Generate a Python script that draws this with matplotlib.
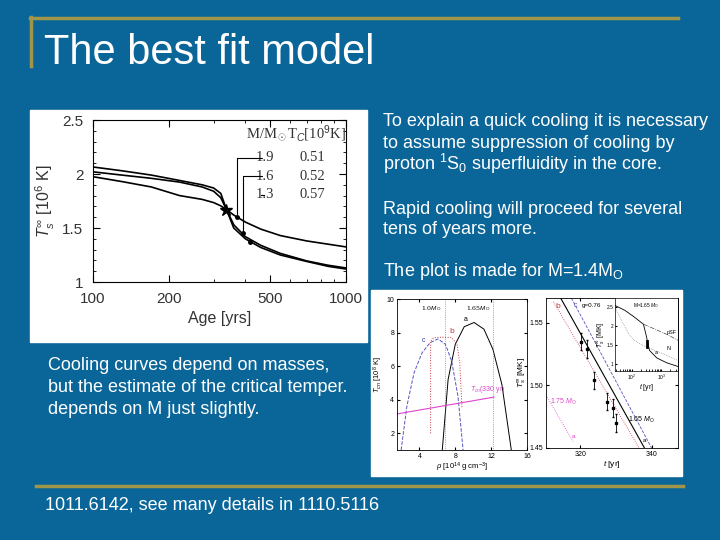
import matplotlib.pyplot as plt
from matplotlib.patches import Rectangle
from matplotlib.lines import Line2D
from matplotlib.ticker import FixedLocator, NullFormatter, MultipleLocator

plt.rcParams['font.family'] = ['Liberation Sans', 'DejaVu Sans']
plt.rcParams['mathtext.fontset'] = 'custom'
plt.rcParams['mathtext.rm'] = 'Liberation Sans'
plt.rcParams['mathtext.it'] = 'Liberation Sans:italic'
plt.rcParams['mathtext.bf'] = 'Liberation Sans:bold'

BLUE = '#0a6699'
GOLD = '#a0964a'

# main cooling curves (age in years, surface temperature in 1e6 K)
ages = [100, 130, 170, 220, 270, 300, 320, 337, 360, 400, 460, 550, 700, 850, 1000]
temp_m19 = [1.975, 1.93, 1.88, 1.80, 1.765, 1.735, 1.705, 1.67, 1.62, 1.555, 1.49, 1.43, 1.38, 1.35, 1.325]
temp_m16 = [2.02, 1.99, 1.96, 1.925, 1.88, 1.84, 1.78, 1.67, 1.53, 1.42, 1.34, 1.265, 1.195, 1.155, 1.13]
temp_m13 = [2.065, 2.03, 1.99, 1.94, 1.90, 1.87, 1.82, 1.67, 1.50, 1.40, 1.32, 1.25, 1.19, 1.145, 1.12]
star_age = [337]
star_temp = [1.67]
mark_age = [371, 392, 417]
mark_temp = [1.60, 1.45, 1.37]
masses = ['1.9', '1.6', '1.3']
crit_temps = ['0.51', '0.52', '0.57']

# critical temperature profiles (density 1e14 g/cm3, Tc 1e8 K)
rho_a = [6.55, 7.2, 8.0, 9.0, 10.1, 11.2, 12.2, 13.2, 14.25]
tc_a = [1.0, 5.2, 7.3, 8.35, 8.6, 8.2, 7.0, 4.9, 1.0]
rho_c = [1.96, 2.6, 3.4, 4.3, 5.2, 6.07, 6.9, 7.6, 8.3, 8.87]
tc_c = [1.0, 3.6, 5.6, 6.8, 7.4, 7.62, 7.3, 6.3, 4.2, 1.0]
rho_b = [5.25, 5.25, 5.6, 6.5, 7.6, 8.2, 8.5, 8.75]
tc_b = [2.0, 7.5, 7.7, 7.72, 7.7, 7.3, 6.2, 3.5]
rho_t330 = [1.5, 12.3]
tc_t330 = [3.15, 4.15]
rho_masses = [6.8, 12.25]
rho_mass_labels = ['1.0$M_{\\mathrm{O}}$', '1.65$M_{\\mathrm{O}}$']

# zoom on Cas A data (t in yr, T in MK)
t_black = [314.5, 338.0]
T_black = [1.57, 1.45]
t_blue = [317.5, 340.0]
T_blue = [1.57, 1.45]
t_red = [312.5, 336.5]
T_red = [1.567, 1.45]
t_m175 = [310.5, 318.0]
T_m175 = [1.492, 1.455]
obs_t = [320.1, 322.0, 323.9, 327.6, 329.2, 330.1]
obs_T = [1.535, 1.529, 1.504, 1.487, 1.482, 1.470]
obs_err = [0.007, 0.007, 0.007, 0.007, 0.007, 0.007]

# inset (t in yr, T in MK)
ins_t = [28, 60, 120, 250, 300, 400, 700, 1500, 3600]
ins_T_a = [2.55, 2.42, 2.25, 2.05, 1.8, 1.35, 1.15, 1.02, 0.92]
ins_t_sp = [250, 600, 1500, 3600]
ins_T_sp = [2.05, 1.92, 1.78, 1.62]
ins_t_n = [28, 50, 80, 120, 250, 600, 1500, 3600]
ins_T_n = [2.5, 2.1, 1.8, 1.62, 1.48, 1.35, 1.22, 1.08]


def px(x0, y0, x1, y1):
    return [x0 / 720, 1 - y1 / 540, (x1 - x0) / 720, (y1 - y0) / 540]


fig = plt.figure(figsize=(7.2, 5.4), dpi=100, facecolor=BLUE)

# slide decoration
fig.add_artist(Line2D([30 / 720, 678 / 720], [1 - 18 / 540] * 2, color=GOLD, lw=2.5))
fig.add_artist(Line2D([31 / 720] * 2, [1 - 17 / 540, 1 - 66 / 540], color=GOLD, lw=2.5))
fig.add_artist(Line2D([36 / 720, 683 / 720], [1 - 486 / 540] * 2, color=GOLD, lw=2.5))
fig.text(44 / 720, 1 - 53 / 540, 'The best fit model', color='white', fontsize=30, va='center')

fig.add_artist(Rectangle((30 / 720, 1 - 342 / 540), 337 / 720, 232 / 540, color='white',
                         transform=fig.transFigure, zorder=-1))
fig.add_artist(Rectangle((371 / 720, 1 - 476 / 540), 311 / 720, 186 / 540, color='white',
                         transform=fig.transFigure, zorder=-1))

txt = dict(color='white', fontsize=13, va='center')
right_lines = [(122, 'To explain a quick cooling it is necessary'),
               (143, 'to assume suppression of cooling by'),
               (164, 'proton $^1$S$_0$ superfluidity in the core.'),
               (209, 'Rapid cooling will proceed for several'),
               (230, 'tens of years more.'),
               (272, 'The plot is made for M=1.4M$_{\\mathrm{O}}$')]
for y, s in right_lines:
    fig.text(383 / 720, 1 - y / 540, s, **txt)
left_lines = [(366, 'Cooling curves depend on masses,'),
              (388, 'but the estimate of the critical temper.'),
              (409, 'depends on M just slightly.')]
for y, s in left_lines:
    fig.text(48 / 720, 1 - y / 540, s, **txt)
fig.text(45 / 720, 1 - 505 / 540, '1011.6142, see many details in 1110.5116', **txt)

# main cooling plot
ax = fig.add_axes(px(93, 120, 346, 282))
ax.patch.set_alpha(0)
for temps in (temp_m19, temp_m16, temp_m13):
    ax.plot(ages, temps, color='black', lw=1.2)
ax.plot(star_age, star_temp, marker='*', ms=9, color='black', ls='none')
ax.plot(mark_age, mark_temp, marker='o', ms=2.5, color='black', ls='none')
ax.set_xscale('log')
ax.set_xlim(100, 1000)
ax.set_ylim(1, 2.5)
ax.xaxis.set_major_locator(FixedLocator([100, 200, 500, 1000]))
ax.xaxis.set_major_formatter(plt.FixedFormatter(['100', '200', '500', '1000']))
ax.xaxis.set_minor_formatter(NullFormatter())
ax.yaxis.set_major_locator(FixedLocator([1, 1.5, 2, 2.5]))
ax.yaxis.set_major_formatter(plt.FixedFormatter(['1', '1.5', '2', '2.5']))
ax.yaxis.set_minor_locator(MultipleLocator(0.1))
ax.tick_params(which='both', direction='in', top=True, right=True, labelsize=11,
               labelcolor='#333333')
ax.tick_params(axis='x', pad=7)
ax.tick_params(axis='y', pad=7)
ax.tick_params(which='major', length=5)
ax.tick_params(which='minor', length=2.5)
ax.set_xlabel('Age [yrs]', fontsize=11.5, color='#333333')
ax.set_ylabel('$T_s^\\infty$ [10$^6$ K]', fontsize=11.5, color='#333333')
serif = dict(family='Liberation Serif', fontsize=10.5, color='#333333')
ax.text(404, 2.33, 'M/M$_\\odot$', **serif)
ax.text(585, 2.33, 'T$_C$[10$^9$K]', **serif)
for i, (m, tc) in enumerate(zip(masses, crit_temps)):
    y = 2.15 - 0.17 * i
    ax.text(520, y, m, ha='right', va='center', **serif)
    ax.text(735, y, tc, ha='center', va='center', **serif)
    if i < 2:
        ax.annotate('', xy=(mark_age[i], mark_temp[i]), xytext=(478, y),
                    arrowprops=dict(arrowstyle='-', lw=0.8, color='black',
                                    connectionstyle='angle,angleA=180,angleB=90,rad=0'))
    else:
        ax.plot([460, 474], [y, y], color='black', lw=0.8)

# critical temperature plot
small = 5
ax2 = fig.add_axes(px(397, 299, 527, 450))
ax2.patch.set_alpha(0)
ax2.plot(rho_a, tc_a, color='black', lw=0.7)
ax2.plot(rho_c, tc_c, color='#5555bb', lw=0.7, ls='--')
ax2.plot(rho_b, tc_b, color='#cc3344', lw=0.7, ls=':')
ax2.plot(rho_t330, tc_t330, color='#dd44cc', lw=0.8)
for r, lab in zip(rho_masses, rho_mass_labels):
    ax2.axvline(r, color='#666666', lw=0.5, ls=':')
    ax2.text(r - 0.3, 9.7, lab, ha='right', va='top', fontsize=small - 0.5, family='DejaVu Serif')
ax2.text(9.0, 8.7, 'a', fontsize=small, color='black')
ax2.text(4.3, 7.45, 'c', fontsize=small, color='#3333aa')
ax2.text(7.35, 8.0, 'b', fontsize=small + 1, color='#cc3344')
ax2.text(9.6, 4.5, '$T_{cn}$(330 yr)', fontsize=small, color='#dd44cc')
ax2.set_xlim(1.5, 16)
ax2.set_ylim(1, 10)
ax2.set_xticks([4, 8, 12, 16])
ax2.set_yticks([2, 4, 6, 8, 10])
ax2.tick_params(direction='in', top=True, right=True, labelsize=small, length=2, pad=2)
ax2.set_xlabel('$\\rho$ [10$^{14}$ g cm$^{-3}$]', fontsize=small + 0.5, labelpad=1)
ax2.set_ylabel('$T_{cn}$ [10$^8$ K]', fontsize=small + 0.5, labelpad=1)
for s in ax2.spines.values():
    s.set_linewidth(0.6)

# Cas A zoom plot
ax3 = fig.add_axes(px(546, 298, 678, 448))
ax3.patch.set_alpha(0)
ax3.plot(t_black, T_black, color='black', lw=0.8)
ax3.plot(t_blue, T_blue, color='#5555bb', lw=0.6, ls='--')
ax3.plot(t_red, T_red, color='#cc3344', lw=0.6, ls=':')
ax3.plot(t_m175, T_m175, color='#dd44cc', lw=0.6, ls=':')
ax3.errorbar(obs_t, obs_T, yerr=obs_err, fmt='s', ms=1.5, color='black', lw=0.6, capsize=1)
ax3.text(313, 1.562, 'b', fontsize=small + 1, color='#cc3344')
ax3.text(318.2, 1.563, 'c', fontsize=small, color='#5555bb')
ax3.text(320.5, 1.563, 'g=0.76', fontsize=small - 0.5)
ax3.text(333.5, 1.471, '1.65 $M_{\\mathrm{O}}$', fontsize=small)
ax3.text(337.5, 1.455, 'a', fontsize=small - 0.5)
ax3.text(311.5, 1.485, '1.75 $M_{\\mathrm{O}}$', fontsize=small, color='#dd44cc')
ax3.text(317.5, 1.458, 'a', fontsize=small - 0.5, color='#dd44cc')
ax3.set_xlim(310.4, 347.4)
ax3.set_ylim(1.45, 1.57)
ax3.set_xticks([320, 340])
ax3.set_yticks([1.45, 1.5, 1.55])
ax3.tick_params(direction='in', top=True, right=True, labelsize=small, length=2, pad=2)
ax3.set_xlabel('$t$ [yr]', fontsize=small + 1, labelpad=1)
ax3.set_ylabel('$T_s^\\infty$ [MK]', fontsize=small + 1, labelpad=1)
for s in ax3.spines.values():
    s.set_linewidth(0.6)

# inset
ax4 = fig.add_axes(px(615, 298, 678, 371))
ax4.plot(ins_t, ins_T_a, color='black', lw=0.6)
ax4.plot(ins_t_sp, ins_T_sp, color='#444444', lw=0.5, ls='-.')
ax4.plot(ins_t_n, ins_T_n, color='#777777', lw=0.5, ls=':')
ax4.plot([330, 330], [1.45, 1.6], color='black', lw=2)
ax4.text(600, 1.25, 'a', fontsize=small - 1)
ax4.text(1500, 1.35, 'N', fontsize=small - 1)
ax4.text(1500, 1.78, 'pSF', fontsize=small - 1)
ax4.text(300, 2.5, 'M=1.65 $M_{\\mathrm{O}}$', fontsize=small - 1.5, ha='center')
ax4.set_xscale('log')
ax4.set_xlim(28, 3600)
ax4.set_ylim(0.8, 2.75)
ax4.set_yticks([1, 1.5, 2, 2.5])
ax4.set_yticklabels(['1', '1.5', '2', '2.5'])
ax4.tick_params(which='both', direction='in', labelsize=small - 1.5, length=1.5, pad=1)
ax4.set_xlabel('$t$ [yr]', fontsize=small, labelpad=0)
ax4.set_ylabel('$T_s^\\infty$ [MK]', fontsize=small, labelpad=0)
for s in ax4.spines.values():
    s.set_linewidth(0.5)

fig.savefig('out.png', dpi=100, facecolor=BLUE)
